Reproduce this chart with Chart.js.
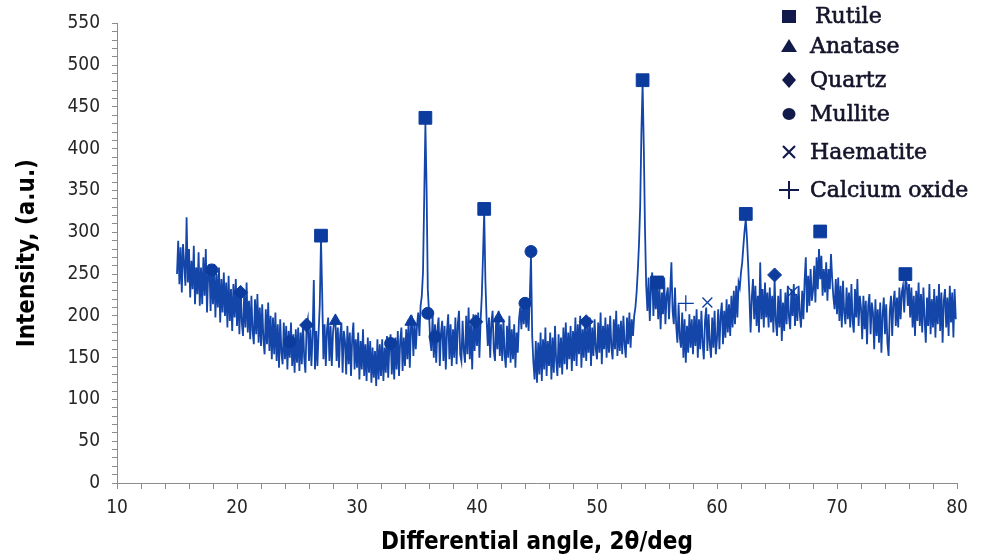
<!DOCTYPE html>
<html>
<head>
<meta charset="utf-8">
<script src="https://cdn.jsdelivr.net/npm/chart.js@4.4.1/dist/chart.umd.min.js"></script>
<style>
  html, body { margin: 0; padding: 0; background: #fff; }
  #xrd { display: block; }
</style>
</head>
<body>
<canvas id="xrd" width="988" height="560"></canvas>
<script>
// Patron de difraccion (2theta de 15.0 a 79.9, paso 0.1)
const angleStart = 15.0;
const angleStep = 0.1;

// Intensidad, una fila por grado
const intensity = [
  250, 290, 238, 282, 228, 286, 262, 236, 318, 240, // 15
  280, 222, 266, 232, 284, 214, 258, 226, 276, 212, // 16
  258, 214, 270, 224, 280, 204, 250, 262, 206, 256, // 17
  214, 262, 198, 250, 210, 258, 192, 244, 204, 252, // 18
  200, 240, 186, 248, 194, 232, 182, 238, 198, 244, // 19
  188, 230, 178, 236, 192, 176, 228, 186, 240, 180, // 20
  218, 172, 224, 182, 166, 220, 178, 226, 168, 210, // 21
  164, 214, 172, 154, 208, 166, 216, 158, 200, 148, // 22
  198, 154, 204, 146, 190, 138, 196, 156, 142, 192, // 23
  148, 188, 136, 182, 150, 192, 140, 178, 132, 184, // 24
  144, 186, 134, 180, 142, 192, 150, 132, 188, 196, // 25
  146, 184, 140, 178, 243, 136, 182, 140, 180, 214, // 26
  292, 226, 148, 190, 140, 184, 198, 146, 188, 140, // 27
  180, 194, 196, 146, 186, 138, 178, 192, 132, 182, // 28
  170, 130, 188, 142, 180, 128, 174, 192, 136, 172, // 29
  138, 180, 124, 170, 136, 184, 128, 166, 122, 174, // 30
  132, 170, 120, 162, 126, 158, 116, 172, 124, 166, // 31
  128, 172, 122, 162, 132, 176, 126, 164, 178, 130, // 32
  168, 124, 174, 136, 182, 128, 170, 186, 134, 174, // 33
  140, 184, 148, 196, 138, 188, 194, 152, 192, 160, // 34
  188, 204, 176, 212, 224, 252, 340, 430, 352, 232, // 35
  204, 170, 158, 200, 150, 190, 144, 184, 198, 140, // 36
  180, 194, 146, 188, 136, 182, 202, 148, 190, 140, // 37
  184, 150, 198, 142, 190, 206, 154, 146, 194, 158, // 38
  144, 200, 154, 210, 148, 190, 136, 202, 158, 196, // 39
  164, 204, 150, 194, 224, 272, 325, 242, 196, 164, // 40
  198, 150, 192, 206, 158, 146, 200, 160, 206, 152, // 41
  190, 146, 196, 154, 138, 188, 150, 200, 144, 184, // 42
  148, 190, 138, 180, 156, 196, 210, 184, 216, 190, // 43
  220, 186, 214, 182, 222, 272, 176, 144, 124, 170, // 44
  120, 168, 130, 180, 122, 172, 136, 186, 128, 170, // 45
  140, 180, 124, 174, 132, 188, 146, 128, 178, 138, // 46
  174, 130, 186, 142, 192, 136, 180, 148, 188, 134, // 47
  182, 146, 198, 140, 190, 154, 200, 138, 184, 150, // 48
  196, 146, 188, 156, 198, 140, 186, 152, 196, 160, // 49
  148, 192, 156, 204, 142, 188, 160, 198, 150, 190, // 50
  156, 200, 162, 148, 196, 160, 206, 152, 190, 158, // 51
  194, 154, 200, 166, 150, 198, 166, 204, 162, 196, // 52
  176, 200, 210, 228, 254, 286, 332, 420, 478, 402, // 53
  304, 236, 206, 246, 194, 234, 252, 200, 240, 208, // 54
  240, 196, 236, 184, 228, 202, 246, 190, 224, 234, // 55
  196, 230, 264, 206, 190, 234, 188, 168, 214, 174, // 56
  162, 204, 150, 196, 144, 188, 156, 202, 162, 196, // 57
  154, 200, 164, 208, 150, 196, 160, 206, 168, 148, // 58
  194, 210, 158, 202, 166, 150, 198, 162, 206, 154, // 59
  172, 208, 160, 200, 216, 166, 206, 174, 220, 180, // 60
  214, 176, 224, 186, 230, 190, 236, 198, 240, 234, // 61
  252, 264, 284, 302, 316, 292, 260, 224, 180, 222, // 62
  244, 196, 236, 188, 224, 180, 264, 196, 232, 186, // 63
  240, 198, 228, 186, 234, 192, 224, 180, 244, 194, // 64
  176, 224, 186, 232, 170, 216, 182, 228, 190, 236, // 65
  198, 184, 232, 200, 238, 188, 226, 194, 236, 202, // 66
  186, 230, 196, 242, 270, 204, 248, 212, 256, 218, // 67
  230, 260, 216, 270, 232, 280, 244, 272, 224, 256, // 68
  228, 264, 218, 256, 232, 274, 244, 222, 208, 244, // 69
  202, 246, 194, 236, 186, 242, 204, 190, 234, 196, // 70
  228, 186, 238, 194, 180, 232, 198, 244, 188, 224, // 71
  210, 172, 224, 184, 218, 166, 212, 226, 178, 216, // 72
  204, 160, 220, 176, 208, 168, 216, 156, 202, 222, // 73
  178, 214, 168, 152, 206, 224, 176, 216, 230, 188, // 74
  222, 186, 234, 196, 228, 236, 204, 242, 240, 212, // 75
  238, 198, 234, 186, 224, 176, 230, 194, 240, 188, // 76
  226, 180, 234, 196, 168, 222, 188, 238, 178, 220, // 77
  186, 232, 174, 224, 190, 238, 182, 228, 168, 218, // 78
  232, 186, 222, 176, 236, 192, 228, 174, 232, 196  // 79
];

// Marcadores de fases (posicion del pico y altura del simbolo)
const rutileX = [27.0, 35.7, 40.6, 53.8, 55.0, 62.4, 68.6, 75.7];
const rutileY = [296, 437, 328, 482, 240, 322, 301, 250];
const anataseX = [28.2, 34.5, 41.8];
const anataseY = [194, 193, 197];
const quartzX = [20.3, 25.8, 39.9, 49.1, 64.8];
const quartzY = [228, 189, 193, 193, 249];
const mulliteX = [17.9, 24.4, 32.8, 35.9, 36.5, 44.0, 44.5];
const mulliteY = [255, 169, 167, 203, 175, 215, 277];
const haematiteX = [59.2, 66.3];
const haematiteY = [216, 229];
const caoX = [57.4];
const caoY = [215];

// Ejes
const xMin = 10, xMax = 80, xMinorStep = 2, xMajorStep = 10;
const yMin = 0, yMax = 550, yMinorStep = 10, yMajorStep = 50;

const phaseNames = ['Rutile', 'Anatase', 'Quartz', 'Mullite', 'Haematite', 'Calcium oxide'];

const lineColor = '#1446aa';
const markColor = '#0c3c9e';
const legendColor = '#111a4a';
const tickFont = "'Liberation Sans Narrow', 'DejaVu Sans Condensed', 'Liberation Sans', sans-serif";

function pairs(xs, ys) {
  return xs.map((x, i) => ({ x: x, y: ys[i] }));
}

const pattern = intensity.map((v, i) => ({
  x: Math.round((angleStart + i * angleStep) * 10) / 10,
  y: v
}));

function markerSet(label, xs, ys, style, radius, border) {
  return {
    type: 'scatter',
    label: label,
    order: 0,
    data: pairs(xs, ys),
    pointStyle: style,
    pointRadius: radius,
    pointHoverRadius: radius,
    pointBackgroundColor: markColor,
    pointBorderColor: markColor,
    pointBorderWidth: border,
    showLine: false
  };
}

// Leyenda dibujada a mano (columna en la esquina superior derecha)
const legendPlugin = {
  id: 'phaseLegend',
  afterDraw(chart) {
    const ctx = chart.ctx;
    const rows = [
      { y: 16, sym: 'rect' },
      { y: 46, sym: 'triangle' },
      { y: 80, sym: 'diamond' },
      { y: 114, sym: 'circle' },
      { y: 152, sym: 'x' },
      { y: 190, sym: 'plus' }
    ];
    const sx = 789;
    const tx = 810;
    ctx.save();
    ctx.fillStyle = legendColor;
    ctx.strokeStyle = legendColor;
    rows.forEach((r, i) => {
      const y = r.y;
      ctx.beginPath();
      if (r.sym === 'rect') {
        ctx.fillRect(sx - 7, y - 6, 14, 13);
      } else if (r.sym === 'triangle') {
        ctx.moveTo(sx, y - 7);
        ctx.lineTo(sx + 8, y + 6);
        ctx.lineTo(sx - 8, y + 6);
        ctx.closePath();
        ctx.fill();
      } else if (r.sym === 'diamond') {
        ctx.moveTo(sx, y - 8);
        ctx.lineTo(sx + 7, y);
        ctx.lineTo(sx, y + 8);
        ctx.lineTo(sx - 7, y);
        ctx.closePath();
        ctx.fill();
      } else if (r.sym === 'circle') {
        ctx.ellipse(sx, y, 6.5, 6, 0, 0, Math.PI * 2);
        ctx.fill();
      } else if (r.sym === 'x') {
        ctx.lineWidth = 2.2;
        ctx.moveTo(sx - 6, y - 6); ctx.lineTo(sx + 6, y + 6);
        ctx.moveTo(sx + 6, y - 6); ctx.lineTo(sx - 6, y + 6);
        ctx.stroke();
      } else {
        ctx.lineWidth = 2;
        ctx.moveTo(sx - 10, y); ctx.lineTo(sx + 10, y);
        ctx.moveTo(sx, y - 9); ctx.lineTo(sx, y + 9);
        ctx.stroke();
      }
      ctx.font = "22px 'DejaVu Serif', 'Liberation Serif', serif";
      ctx.textBaseline = 'middle';
      ctx.textAlign = 'left';
      ctx.fillStyle = '#14142a';
      ctx.strokeStyle = '#14142a';
      ctx.lineWidth = 0.6;
      const lx = i === 0 ? tx + 5 : tx;
      ctx.fillText(phaseNames[i], lx, y + 1);
      ctx.strokeText(phaseNames[i], lx, y + 1);
      ctx.fillStyle = legendColor;
      ctx.strokeStyle = legendColor;
    });
    ctx.restore();
  }
};

const config = {
  type: 'line',
  data: {
    datasets: [
      {
        label: 'XRD',
        order: 1,
        data: pattern,
        borderColor: lineColor,
        borderWidth: 1.8,
        pointRadius: 0,
        tension: 0,
        fill: false
      },
      markerSet('Rutile', rutileX, rutileY, 'rect', 9, 1),
      markerSet('Anatase', anataseX, anataseY, 'triangle', 7, 1),
      markerSet('Quartz', quartzX, quartzY, 'rectRot', 7, 1),
      markerSet('Mullite', mulliteX, mulliteY, 'circle', 6, 1),
      markerSet('Haematite', haematiteX, haematiteY, 'crossRot', 7, 1.3),
      markerSet('Calcium oxide', caoX, caoY, 'cross', 8, 1.3)
    ]
  },
  options: {
    responsive: false,
    animation: false,
    events: [],
    layout: {
      padding: { left: 0, right: 31, top: 22, bottom: 0 }
    },
    plugins: {
      legend: { display: false },
      tooltip: { enabled: false }
    },
    scales: {
      x: {
        type: 'linear',
        min: xMin,
        max: xMax,
        afterFit: function(scale) { scale.height = 77; },
        border: { display: true, color: '#8c8c8c', width: 1 },
        grid: {
          display: true,
          drawOnChartArea: false,
          drawTicks: true,
          tickLength: 6,
          color: '#8c8c8c'
        },
        ticks: {
          stepSize: xMinorStep,
          autoSkip: false,
          maxRotation: 0,
          padding: 8,
          color: '#262626',
          font: { family: tickFont, size: 19 },
          callback: function(value) {
            return value % xMajorStep === 0 ? value : '';
          }
        },
        title: {
          display: true,
          text: 'Differential angle, 2θ/deg',
          color: '#000',
          padding: { top: 0, bottom: 3 },
          font: { family: tickFont, size: 24, weight: 'bold' }
        }
      },
      y: {
        type: 'linear',
        min: yMin,
        max: yMax,
        afterFit: function(scale) { scale.width = 117; },
        border: { display: true, color: '#8c8c8c', width: 1 },
        grid: {
          display: true,
          drawOnChartArea: false,
          drawTicks: true,
          tickLength: 5,
          color: '#8c8c8c'
        },
        ticks: {
          stepSize: yMinorStep,
          autoSkip: false,
          padding: 12,
          color: '#262626',
          font: { family: tickFont, size: 19 },
          callback: function(value) {
            return value % yMajorStep === 0 ? value : '';
          }
        },
        title: {
          display: true,
          text: 'Intensity, (a.u.)',
          color: '#000',
          padding: { top: 13, bottom: 0 },
          font: { family: tickFont, size: 24, weight: 'bold' }
        }
      }
    }
  },
  plugins: [legendPlugin]
};

const chartXrd = new Chart(document.getElementById('xrd').getContext('2d'), config);
</script>
</body>
</html>
